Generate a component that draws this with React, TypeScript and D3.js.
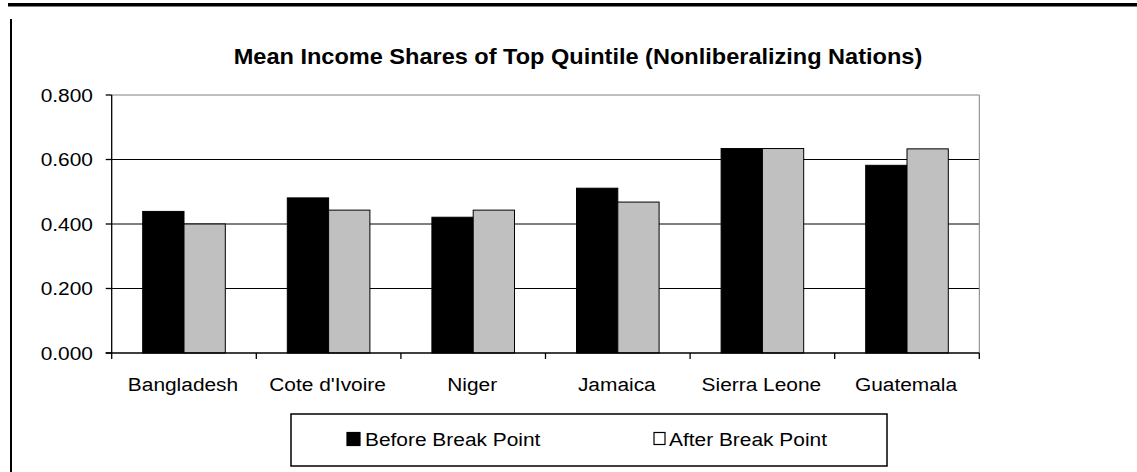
import React from "react";
import * as d3 from "d3";

// Grouped bar chart: mean income share of the top quintile, before/after break point.
const countries = ["Bangladesh", "Cote d'Ivoire", "Niger", "Jamaica", "Sierra Leone", "Guatemala"];
const before = [0.439, 0.481, 0.421, 0.511, 0.634, 0.582];
const after = [0.4, 0.443, 0.443, 0.468, 0.634, 0.633];
const seriesNames = ["Before Break Point", "After Break Point"];
const yTicks = [0, 0.2, 0.4, 0.6, 0.8];
const title = "Mean Income Shares of Top Quintile (Nonliberalizing Nations)";

const W = 1137;
const H = 472;
const plot = { left: 111.7, right: 979.3, top: 95, bottom: 353 };
const font = "Arial, 'Liberation Sans', sans-serif";
const SX = 1.1; // the original font runs wider than Arial

function Label({ x, y, anchor = "start", size = 19, bold = false, sx = SX, children }: any) {
  return (
    <g transform={`translate(${x},${y}) scale(${sx},1)`}>
      <text
        x={0}
        y={0}
        textAnchor={anchor}
        fontFamily={font}
        fontSize={size}
        fontWeight={bold ? "bold" : "normal"}
        fill="#000"
      >
        {children}
      </text>
    </g>
  );
}

export default function App() {
  const x = d3
    .scaleBand<string>()
    .domain(countries)
    .range([plot.left, plot.right])
    .paddingInner(0.4288)
    .paddingOuter(0.2144);
  const xs = d3.scaleBand<string>().domain(seriesNames).range([0, x.bandwidth()]);
  const y = d3.scaleLinear().domain([0, 0.8]).range([plot.bottom, plot.top]);
  const fmt = d3.format(".3f");
  const fills = ["#000000", "#c0c0c0"];
  const values = [before, after];
  const step = x.step();
  const bounds = d3.range(countries.length + 1).map((i) => plot.left + i * step);

  return (
    <svg
      width={W}
      height={H}
      style={{ position: "absolute", left: 0, top: 0, background: "#fff" }}
    >
      <rect x={0} y={0} width={W} height={H} fill="#fff" />
      {/* page frame */}
      <rect x={8} y={3} width={W - 8} height={3.5} fill="#000" />
      <rect x={10} y={19} width={2} height={H - 19} fill="#000" />

      <Label x={578} y={64} anchor="middle" size={21.4} bold sx={1.1}>
        {title}
      </Label>

      {/* gridlines */}
      {yTicks
        .filter((t) => t > 0 && t < 0.8)
        .map((t) => (
          <line key={t} x1={plot.left} x2={plot.right} y1={y(t)} y2={y(t)} stroke="#000" strokeWidth={1} />
        ))}

      {/* plot border (gray top/right) */}
      <line x1={plot.left} x2={plot.right} y1={y(0.8)} y2={y(0.8)} stroke="#808080" strokeWidth={1} />
      <line x1={plot.right} x2={plot.right} y1={plot.top} y2={plot.bottom} stroke="#808080" strokeWidth={1} />

      {/* bars */}
      {countries.map((c, i) => (
        <g key={c}>
          {seriesNames.map((s, j) => (
            <rect
              key={s}
              x={(x(c) as number) + (xs(s) as number)}
              y={y(values[j][i])}
              width={xs.bandwidth()}
              height={y(0) - y(values[j][i])}
              fill={fills[j]}
              stroke="#000"
              strokeWidth={1}
            />
          ))}
        </g>
      ))}

      {/* y axis */}
      <line x1={plot.left} x2={plot.left} y1={plot.top} y2={plot.bottom} stroke="#000" strokeWidth={1.3} />
      {yTicks.map((t) => (
        <g key={t}>
          <line x1={plot.left - 6} x2={plot.left} y1={y(t)} y2={y(t)} stroke="#000" strokeWidth={1.3} />
          <Label x={93} y={y(t) + 6.5} anchor="end">
            {fmt(t)}
          </Label>
        </g>
      ))}

      {/* x axis */}
      <line x1={plot.left - 6} x2={plot.right} y1={plot.bottom} y2={plot.bottom} stroke="#000" strokeWidth={1.3} />
      {bounds.map((b, i) => (
        <line key={i} x1={b} x2={b} y1={plot.bottom} y2={plot.bottom + 6} stroke="#000" strokeWidth={1.3} />
      ))}
      {countries.map((c) => (
        <Label key={c} x={(x(c) as number) + x.bandwidth() / 2 - 1} y={391} anchor="middle">
          {c}
        </Label>
      ))}

      {/* legend */}
      <rect x={291} y={414} width={596} height={52} fill="#fff" stroke="#000" strokeWidth={1.5} />
      {seriesNames.map((s, j) => {
        const lx = j === 0 ? 347 : 654;
        return (
          <g key={s}>
            <rect
              x={lx}
              y={432.5}
              width={j === 0 ? 13 : 11}
              height={j === 0 ? 13 : 12}
              fill={j === 0 ? "#000" : "#fff"}
              stroke="#000"
              strokeWidth={1.2}
            />
            <Label x={lx + (j === 0 ? 18 : 15)} y={445.5}>
              {s}
            </Label>
          </g>
        );
      })}
    </svg>
  );
}
